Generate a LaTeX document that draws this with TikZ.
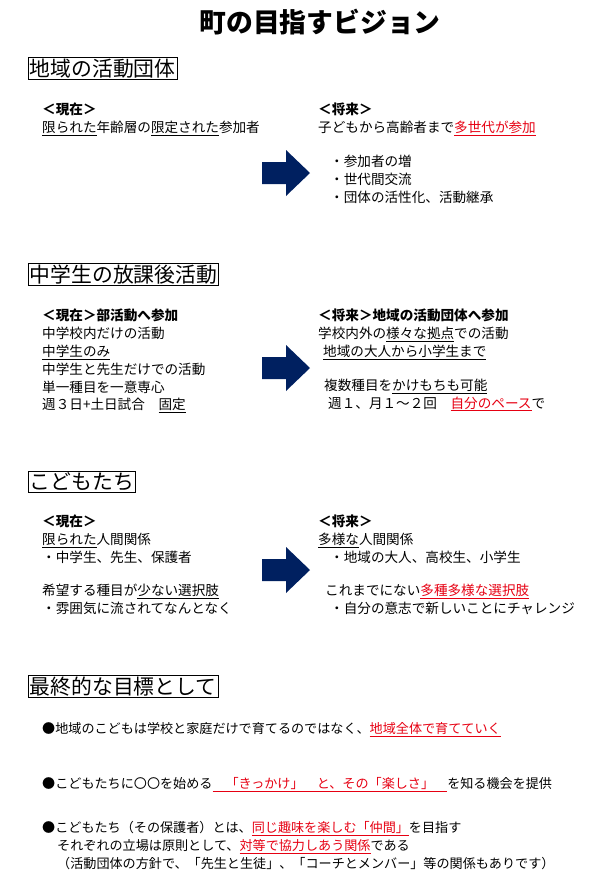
\documentclass[tikz,border=0pt]{standalone}
\usepackage{fontspec}
\setmainfont{Noto Sans CJK JP}
\usetikzlibrary{positioning}
\definecolor{navy}{RGB}{0,32,96}
\definecolor{ulred}{RGB}{230,0,18}
\newcommand\ul[1]{\underline{#1}}
\newcommand\rul[1]{\textcolor{ulred}{\underline{#1}}}
\tikzset{
  txt/.style={anchor=north west, inner sep=0pt, align=left, font=\fontsize{13.6}{17.8}\selectfont},
  goaltxt/.style={txt, font=\fontsize{13.1}{17.8}\selectfont},
  headbox/.style={draw, thick, anchor=north west, inner sep=1.5pt, font=\fontsize{20.8}{23}\selectfont},
  bigarrow/.style={fill=navy, draw=none}
}
\newcommand\bigarr[1]{%
  \fill[bigarrow] (262,#1-11) -- (286,#1-11) -- (286,#1-23) -- (310,#1) -- (286,#1+23) -- (286,#1+11) -- (262,#1+11) -- cycle;}

\begin{document}
\begin{tikzpicture}[x=1pt,y=-1pt]
\useasboundingbox (0,0) rectangle (611,892);

%title
\node[font=\fontsize{26.8}{29}\selectfont\bfseries] (title) at (320,22) {町の目指すビジョン};

%section 1
\node[headbox] (h1) at (28,57) {地域の活動団体};
\node[txt] (now1) at (42,103) {\textbf{＜現在＞}\\
  \ul{限られた}年齢層の\ul{限定された}参加者};
\node[txt] (fut1) at (318,103) {\textbf{＜将来＞}\\
  子どもから高齢者まで\rul{多世代が参加}\\[16pt]
  \hspace*{12pt}・参加者の増\\
  \hspace*{12pt}・世代間交流\\
  \hspace*{12pt}・団体の活性化、活動継承};
\bigarr{173}

%section 2
\node[headbox] (h2) at (28,263) {中学生の放課後活動};
\node[txt] (now2) at (42,309) {\textbf{＜現在＞部活動へ参加}\\
  中学校内だけの活動\\
  \ul{中学生のみ}\\
  中学生と先生だけでの活動\\
  単一種目を一意専心\\
  週３日+土日試合　\ul{固定}};
\node[txt] (fut2) at (318,309) {\textbf{＜将来＞地域の活動団体へ参加}\\
  学校内外の\ul{様々な拠点}での活動\\
  \hspace*{5pt}\ul{地域の大人から小学生まで}\\[16pt]
  \hspace*{6pt}複数種目を\ul{かけもちも可能}\\
  \hspace*{10pt}週１、月１～２回　\rul{自分のペース}で};
\bigarr{368}

%section 3
\node[headbox] (h3) at (28,471) {こどもたち};
\node[txt] (now3) at (42,515) {\textbf{＜現在＞}\\
  \ul{限られた}人間関係\\
  ・中学生、先生、保護者\\[15pt]
  希望する種目が\ul{少ない選択肢}\\
  ・雰囲気に流されてなんとなく};
\node[txt] (fut3) at (318,515) {\textbf{＜将来＞}\\
  \ul{多様な}人間関係\\
  \hspace*{12pt}・地域の大人、高校生、小学生\\[15pt]
  \hspace*{7pt}これまでにない\rul{多種多様な選択肢}\\
  \hspace*{12pt}・自分の意志で新しいことにチャレンジ};
\bigarr{570}

%section 4
\node[headbox] (h4) at (28,675) {最終的な目標として};
\node[goaltxt] (goal1) at (42,722) {●地域のこどもは学校と家庭だけで育てるのではなく、\rul{地域全体で育てていく}};
\node[goaltxt] (goal2) at (42,777) {●こどもたちに〇〇を始める\rul{　「きっかけ」　と、その「楽しさ」　}を知る機会を提供};
\node[goaltxt] (goal3) at (42,821) {●こどもたち（その保護者）とは、\rul{同じ趣味を楽しむ「仲間」}を目指す\\
  \hspace*{15pt}それぞれの立場は原則として、\rul{対等で協力しあう関係}である\\
  \hspace*{15pt}（活動団体の方針で、「先生と生徒」、「コーチとメンバー」等の関係もありです）};

\end{tikzpicture}
\end{document}
